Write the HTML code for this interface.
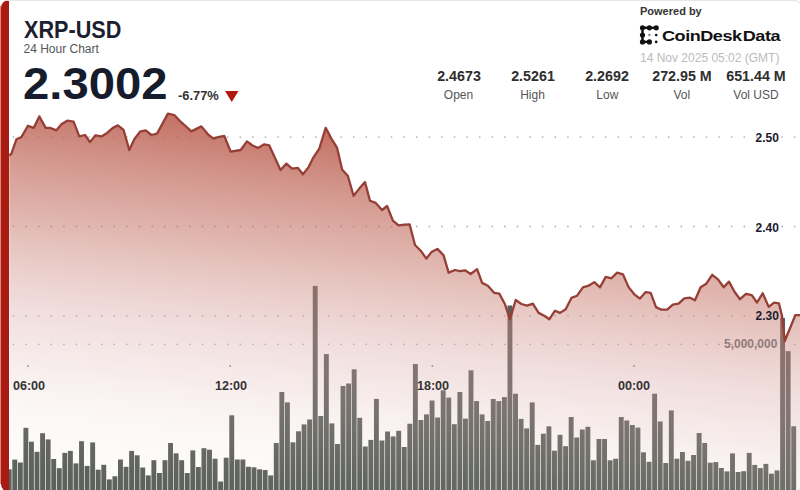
<!DOCTYPE html>
<html><head><meta charset="utf-8">
<style>
html,body{margin:0;padding:0;background:#fff;}
body{width:800px;height:490px;overflow:hidden;position:relative;font-family:"Liberation Sans",sans-serif;}
.card{position:absolute;left:1px;top:0;width:801px;height:492px;border:1px solid #e6e6e6;border-left:8px solid #a81b12;border-radius:8px;box-sizing:border-box;}
.edge{position:absolute;left:0;top:6px;width:1px;height:478px;background:#e48676;}
.t{position:absolute;white-space:nowrap;line-height:1;}
svg{position:absolute;left:0;top:0;}
</style></head><body>
<svg width="800" height="490" viewBox="0 0 800 490">
<defs>
<linearGradient id="ag" x1="150" y1="113" x2="108.3" y2="485.3" gradientUnits="userSpaceOnUse">
<stop offset="0" stop-color="#ba5b4b" stop-opacity="0.86"/>
<stop offset="0.165" stop-color="#c26e61" stop-opacity="0.70"/>
<stop offset="0.297" stop-color="#c6776a" stop-opacity="0.56"/>
<stop offset="0.43" stop-color="#ce8a80" stop-opacity="0.44"/>
<stop offset="0.562" stop-color="#d8a2a2" stop-opacity="0.35"/>
<stop offset="0.695" stop-color="#e0b6b4" stop-opacity="0.26"/>
<stop offset="0.854" stop-color="#ebcfcd" stop-opacity="0.12"/>
<stop offset="1" stop-color="#e0b4ae" stop-opacity="0.05"/>
</linearGradient>
<clipPath id="cp"><rect x="9" y="0" width="791" height="490"/></clipPath>
</defs>
<g clip-path="url(#cp)">
<g fill="#b4b4b4"><circle cx="13.5" cy="137.1" r="0.9"/><circle cx="26.1" cy="137.1" r="0.9"/><circle cx="38.7" cy="137.1" r="0.9"/><circle cx="51.3" cy="137.1" r="0.9"/><circle cx="63.9" cy="137.1" r="0.9"/><circle cx="76.5" cy="137.1" r="0.9"/><circle cx="89.1" cy="137.1" r="0.9"/><circle cx="101.7" cy="137.1" r="0.9"/><circle cx="114.3" cy="137.1" r="0.9"/><circle cx="126.9" cy="137.1" r="0.9"/><circle cx="139.5" cy="137.1" r="0.9"/><circle cx="152.1" cy="137.1" r="0.9"/><circle cx="164.7" cy="137.1" r="0.9"/><circle cx="177.3" cy="137.1" r="0.9"/><circle cx="189.9" cy="137.1" r="0.9"/><circle cx="202.5" cy="137.1" r="0.9"/><circle cx="215.1" cy="137.1" r="0.9"/><circle cx="227.7" cy="137.1" r="0.9"/><circle cx="240.3" cy="137.1" r="0.9"/><circle cx="252.9" cy="137.1" r="0.9"/><circle cx="265.5" cy="137.1" r="0.9"/><circle cx="278.1" cy="137.1" r="0.9"/><circle cx="290.7" cy="137.1" r="0.9"/><circle cx="303.3" cy="137.1" r="0.9"/><circle cx="315.9" cy="137.1" r="0.9"/><circle cx="328.5" cy="137.1" r="0.9"/><circle cx="341.1" cy="137.1" r="0.9"/><circle cx="353.7" cy="137.1" r="0.9"/><circle cx="366.3" cy="137.1" r="0.9"/><circle cx="378.9" cy="137.1" r="0.9"/><circle cx="391.5" cy="137.1" r="0.9"/><circle cx="404.1" cy="137.1" r="0.9"/><circle cx="416.7" cy="137.1" r="0.9"/><circle cx="429.3" cy="137.1" r="0.9"/><circle cx="441.9" cy="137.1" r="0.9"/><circle cx="454.5" cy="137.1" r="0.9"/><circle cx="467.1" cy="137.1" r="0.9"/><circle cx="479.7" cy="137.1" r="0.9"/><circle cx="492.3" cy="137.1" r="0.9"/><circle cx="504.9" cy="137.1" r="0.9"/><circle cx="517.5" cy="137.1" r="0.9"/><circle cx="530.1" cy="137.1" r="0.9"/><circle cx="542.7" cy="137.1" r="0.9"/><circle cx="555.3" cy="137.1" r="0.9"/><circle cx="567.9" cy="137.1" r="0.9"/><circle cx="580.5" cy="137.1" r="0.9"/><circle cx="593.1" cy="137.1" r="0.9"/><circle cx="605.7" cy="137.1" r="0.9"/><circle cx="618.3" cy="137.1" r="0.9"/><circle cx="630.9" cy="137.1" r="0.9"/><circle cx="643.5" cy="137.1" r="0.9"/><circle cx="656.1" cy="137.1" r="0.9"/><circle cx="668.7" cy="137.1" r="0.9"/><circle cx="681.3" cy="137.1" r="0.9"/><circle cx="693.9" cy="137.1" r="0.9"/><circle cx="706.5" cy="137.1" r="0.9"/><circle cx="719.1" cy="137.1" r="0.9"/><circle cx="731.7" cy="137.1" r="0.9"/><circle cx="744.3" cy="137.1" r="0.9"/><circle cx="756.9" cy="137.1" r="0.9"/><circle cx="769.5" cy="137.1" r="0.9"/><circle cx="782.1" cy="137.1" r="0.9"/><circle cx="794.7" cy="137.1" r="0.9"/><circle cx="13.5" cy="226.5" r="0.9"/><circle cx="26.1" cy="226.5" r="0.9"/><circle cx="38.7" cy="226.5" r="0.9"/><circle cx="51.3" cy="226.5" r="0.9"/><circle cx="63.9" cy="226.5" r="0.9"/><circle cx="76.5" cy="226.5" r="0.9"/><circle cx="89.1" cy="226.5" r="0.9"/><circle cx="101.7" cy="226.5" r="0.9"/><circle cx="114.3" cy="226.5" r="0.9"/><circle cx="126.9" cy="226.5" r="0.9"/><circle cx="139.5" cy="226.5" r="0.9"/><circle cx="152.1" cy="226.5" r="0.9"/><circle cx="164.7" cy="226.5" r="0.9"/><circle cx="177.3" cy="226.5" r="0.9"/><circle cx="189.9" cy="226.5" r="0.9"/><circle cx="202.5" cy="226.5" r="0.9"/><circle cx="215.1" cy="226.5" r="0.9"/><circle cx="227.7" cy="226.5" r="0.9"/><circle cx="240.3" cy="226.5" r="0.9"/><circle cx="252.9" cy="226.5" r="0.9"/><circle cx="265.5" cy="226.5" r="0.9"/><circle cx="278.1" cy="226.5" r="0.9"/><circle cx="290.7" cy="226.5" r="0.9"/><circle cx="303.3" cy="226.5" r="0.9"/><circle cx="315.9" cy="226.5" r="0.9"/><circle cx="328.5" cy="226.5" r="0.9"/><circle cx="341.1" cy="226.5" r="0.9"/><circle cx="353.7" cy="226.5" r="0.9"/><circle cx="366.3" cy="226.5" r="0.9"/><circle cx="378.9" cy="226.5" r="0.9"/><circle cx="391.5" cy="226.5" r="0.9"/><circle cx="404.1" cy="226.5" r="0.9"/><circle cx="416.7" cy="226.5" r="0.9"/><circle cx="429.3" cy="226.5" r="0.9"/><circle cx="441.9" cy="226.5" r="0.9"/><circle cx="454.5" cy="226.5" r="0.9"/><circle cx="467.1" cy="226.5" r="0.9"/><circle cx="479.7" cy="226.5" r="0.9"/><circle cx="492.3" cy="226.5" r="0.9"/><circle cx="504.9" cy="226.5" r="0.9"/><circle cx="517.5" cy="226.5" r="0.9"/><circle cx="530.1" cy="226.5" r="0.9"/><circle cx="542.7" cy="226.5" r="0.9"/><circle cx="555.3" cy="226.5" r="0.9"/><circle cx="567.9" cy="226.5" r="0.9"/><circle cx="580.5" cy="226.5" r="0.9"/><circle cx="593.1" cy="226.5" r="0.9"/><circle cx="605.7" cy="226.5" r="0.9"/><circle cx="618.3" cy="226.5" r="0.9"/><circle cx="630.9" cy="226.5" r="0.9"/><circle cx="643.5" cy="226.5" r="0.9"/><circle cx="656.1" cy="226.5" r="0.9"/><circle cx="668.7" cy="226.5" r="0.9"/><circle cx="681.3" cy="226.5" r="0.9"/><circle cx="693.9" cy="226.5" r="0.9"/><circle cx="706.5" cy="226.5" r="0.9"/><circle cx="719.1" cy="226.5" r="0.9"/><circle cx="731.7" cy="226.5" r="0.9"/><circle cx="744.3" cy="226.5" r="0.9"/><circle cx="756.9" cy="226.5" r="0.9"/><circle cx="769.5" cy="226.5" r="0.9"/><circle cx="782.1" cy="226.5" r="0.9"/><circle cx="794.7" cy="226.5" r="0.9"/><circle cx="13.5" cy="315.8" r="0.9"/><circle cx="26.1" cy="315.8" r="0.9"/><circle cx="38.7" cy="315.8" r="0.9"/><circle cx="51.3" cy="315.8" r="0.9"/><circle cx="63.9" cy="315.8" r="0.9"/><circle cx="76.5" cy="315.8" r="0.9"/><circle cx="89.1" cy="315.8" r="0.9"/><circle cx="101.7" cy="315.8" r="0.9"/><circle cx="114.3" cy="315.8" r="0.9"/><circle cx="126.9" cy="315.8" r="0.9"/><circle cx="139.5" cy="315.8" r="0.9"/><circle cx="152.1" cy="315.8" r="0.9"/><circle cx="164.7" cy="315.8" r="0.9"/><circle cx="177.3" cy="315.8" r="0.9"/><circle cx="189.9" cy="315.8" r="0.9"/><circle cx="202.5" cy="315.8" r="0.9"/><circle cx="215.1" cy="315.8" r="0.9"/><circle cx="227.7" cy="315.8" r="0.9"/><circle cx="240.3" cy="315.8" r="0.9"/><circle cx="252.9" cy="315.8" r="0.9"/><circle cx="265.5" cy="315.8" r="0.9"/><circle cx="278.1" cy="315.8" r="0.9"/><circle cx="290.7" cy="315.8" r="0.9"/><circle cx="303.3" cy="315.8" r="0.9"/><circle cx="315.9" cy="315.8" r="0.9"/><circle cx="328.5" cy="315.8" r="0.9"/><circle cx="341.1" cy="315.8" r="0.9"/><circle cx="353.7" cy="315.8" r="0.9"/><circle cx="366.3" cy="315.8" r="0.9"/><circle cx="378.9" cy="315.8" r="0.9"/><circle cx="391.5" cy="315.8" r="0.9"/><circle cx="404.1" cy="315.8" r="0.9"/><circle cx="416.7" cy="315.8" r="0.9"/><circle cx="429.3" cy="315.8" r="0.9"/><circle cx="441.9" cy="315.8" r="0.9"/><circle cx="454.5" cy="315.8" r="0.9"/><circle cx="467.1" cy="315.8" r="0.9"/><circle cx="479.7" cy="315.8" r="0.9"/><circle cx="492.3" cy="315.8" r="0.9"/><circle cx="504.9" cy="315.8" r="0.9"/><circle cx="517.5" cy="315.8" r="0.9"/><circle cx="530.1" cy="315.8" r="0.9"/><circle cx="542.7" cy="315.8" r="0.9"/><circle cx="555.3" cy="315.8" r="0.9"/><circle cx="567.9" cy="315.8" r="0.9"/><circle cx="580.5" cy="315.8" r="0.9"/><circle cx="593.1" cy="315.8" r="0.9"/><circle cx="605.7" cy="315.8" r="0.9"/><circle cx="618.3" cy="315.8" r="0.9"/><circle cx="630.9" cy="315.8" r="0.9"/><circle cx="643.5" cy="315.8" r="0.9"/><circle cx="656.1" cy="315.8" r="0.9"/><circle cx="668.7" cy="315.8" r="0.9"/><circle cx="681.3" cy="315.8" r="0.9"/><circle cx="693.9" cy="315.8" r="0.9"/><circle cx="706.5" cy="315.8" r="0.9"/><circle cx="719.1" cy="315.8" r="0.9"/><circle cx="731.7" cy="315.8" r="0.9"/><circle cx="744.3" cy="315.8" r="0.9"/><circle cx="756.9" cy="315.8" r="0.9"/><circle cx="769.5" cy="315.8" r="0.9"/><circle cx="782.1" cy="315.8" r="0.9"/><circle cx="794.7" cy="315.8" r="0.9"/><circle cx="13.5" cy="344.3" r="0.9"/><circle cx="26.1" cy="344.3" r="0.9"/><circle cx="38.7" cy="344.3" r="0.9"/><circle cx="51.3" cy="344.3" r="0.9"/><circle cx="63.9" cy="344.3" r="0.9"/><circle cx="76.5" cy="344.3" r="0.9"/><circle cx="89.1" cy="344.3" r="0.9"/><circle cx="101.7" cy="344.3" r="0.9"/><circle cx="114.3" cy="344.3" r="0.9"/><circle cx="126.9" cy="344.3" r="0.9"/><circle cx="139.5" cy="344.3" r="0.9"/><circle cx="152.1" cy="344.3" r="0.9"/><circle cx="164.7" cy="344.3" r="0.9"/><circle cx="177.3" cy="344.3" r="0.9"/><circle cx="189.9" cy="344.3" r="0.9"/><circle cx="202.5" cy="344.3" r="0.9"/><circle cx="215.1" cy="344.3" r="0.9"/><circle cx="227.7" cy="344.3" r="0.9"/><circle cx="240.3" cy="344.3" r="0.9"/><circle cx="252.9" cy="344.3" r="0.9"/><circle cx="265.5" cy="344.3" r="0.9"/><circle cx="278.1" cy="344.3" r="0.9"/><circle cx="290.7" cy="344.3" r="0.9"/><circle cx="303.3" cy="344.3" r="0.9"/><circle cx="315.9" cy="344.3" r="0.9"/><circle cx="328.5" cy="344.3" r="0.9"/><circle cx="341.1" cy="344.3" r="0.9"/><circle cx="353.7" cy="344.3" r="0.9"/><circle cx="366.3" cy="344.3" r="0.9"/><circle cx="378.9" cy="344.3" r="0.9"/><circle cx="391.5" cy="344.3" r="0.9"/><circle cx="404.1" cy="344.3" r="0.9"/><circle cx="416.7" cy="344.3" r="0.9"/><circle cx="429.3" cy="344.3" r="0.9"/><circle cx="441.9" cy="344.3" r="0.9"/><circle cx="454.5" cy="344.3" r="0.9"/><circle cx="467.1" cy="344.3" r="0.9"/><circle cx="479.7" cy="344.3" r="0.9"/><circle cx="492.3" cy="344.3" r="0.9"/><circle cx="504.9" cy="344.3" r="0.9"/><circle cx="517.5" cy="344.3" r="0.9"/><circle cx="530.1" cy="344.3" r="0.9"/><circle cx="542.7" cy="344.3" r="0.9"/><circle cx="555.3" cy="344.3" r="0.9"/><circle cx="567.9" cy="344.3" r="0.9"/><circle cx="580.5" cy="344.3" r="0.9"/><circle cx="593.1" cy="344.3" r="0.9"/><circle cx="605.7" cy="344.3" r="0.9"/><circle cx="618.3" cy="344.3" r="0.9"/><circle cx="630.9" cy="344.3" r="0.9"/><circle cx="643.5" cy="344.3" r="0.9"/><circle cx="656.1" cy="344.3" r="0.9"/><circle cx="668.7" cy="344.3" r="0.9"/><circle cx="681.3" cy="344.3" r="0.9"/><circle cx="693.9" cy="344.3" r="0.9"/><circle cx="706.5" cy="344.3" r="0.9"/><circle cx="719.1" cy="344.3" r="0.9"/><circle cx="731.7" cy="344.3" r="0.9"/><circle cx="744.3" cy="344.3" r="0.9"/><circle cx="756.9" cy="344.3" r="0.9"/><circle cx="769.5" cy="344.3" r="0.9"/><circle cx="782.1" cy="344.3" r="0.9"/><circle cx="794.7" cy="344.3" r="0.9"/></g>
<g fill="#888"><circle cx="28" cy="366" r="0.9"/><circle cx="230.2" cy="366" r="0.9"/><circle cx="432.3" cy="366" r="0.9"/><circle cx="634" cy="366" r="0.9"/></g>
<g fill="#565d57">
<rect x="6.74" y="469.3" width="4.9" height="22.7"/>
<rect x="12.30" y="459.6" width="4.9" height="32.4"/>
<rect x="17.87" y="462.5" width="4.9" height="29.5"/>
<rect x="23.43" y="427.8" width="4.9" height="64.2"/>
<rect x="29.00" y="441.7" width="4.9" height="50.3"/>
<rect x="34.56" y="451.8" width="4.9" height="40.2"/>
<rect x="40.12" y="433.2" width="4.9" height="58.8"/>
<rect x="45.69" y="439.4" width="4.9" height="52.6"/>
<rect x="51.25" y="459.0" width="4.9" height="33.0"/>
<rect x="56.82" y="468.2" width="4.9" height="23.8"/>
<rect x="62.38" y="452.9" width="4.9" height="39.1"/>
<rect x="67.94" y="450.9" width="4.9" height="41.1"/>
<rect x="73.51" y="463.4" width="4.9" height="28.6"/>
<rect x="79.07" y="441.2" width="4.9" height="50.8"/>
<rect x="84.64" y="465.9" width="4.9" height="26.1"/>
<rect x="90.20" y="442.4" width="4.9" height="49.6"/>
<rect x="95.76" y="469.7" width="4.9" height="22.3"/>
<rect x="101.33" y="464.8" width="4.9" height="27.2"/>
<rect x="106.89" y="479.4" width="4.9" height="12.6"/>
<rect x="112.46" y="476.3" width="4.9" height="15.7"/>
<rect x="118.02" y="459.5" width="4.9" height="32.5"/>
<rect x="123.58" y="466.8" width="4.9" height="25.2"/>
<rect x="129.15" y="450.9" width="4.9" height="41.1"/>
<rect x="134.71" y="455.3" width="4.9" height="36.7"/>
<rect x="140.28" y="467.5" width="4.9" height="24.5"/>
<rect x="145.84" y="475.4" width="4.9" height="16.6"/>
<rect x="151.40" y="460.2" width="4.9" height="31.8"/>
<rect x="156.97" y="473.0" width="4.9" height="19.0"/>
<rect x="162.53" y="460.2" width="4.9" height="31.8"/>
<rect x="168.10" y="443.0" width="4.9" height="49.0"/>
<rect x="173.66" y="453.3" width="4.9" height="38.7"/>
<rect x="179.22" y="460.2" width="4.9" height="31.8"/>
<rect x="184.79" y="473.0" width="4.9" height="19.0"/>
<rect x="190.35" y="450.4" width="4.9" height="41.6"/>
<rect x="195.92" y="467.0" width="4.9" height="25.0"/>
<rect x="201.48" y="448.2" width="4.9" height="43.8"/>
<rect x="207.04" y="449.7" width="4.9" height="42.3"/>
<rect x="212.61" y="458.7" width="4.9" height="33.3"/>
<rect x="218.17" y="481.5" width="4.9" height="10.5"/>
<rect x="223.74" y="457.7" width="4.9" height="34.3"/>
<rect x="229.30" y="415.3" width="4.9" height="76.7"/>
<rect x="234.86" y="459.5" width="4.9" height="32.5"/>
<rect x="240.43" y="459.5" width="4.9" height="32.5"/>
<rect x="245.99" y="466.8" width="4.9" height="25.2"/>
<rect x="251.56" y="467.3" width="4.9" height="24.7"/>
<rect x="257.12" y="469.3" width="4.9" height="22.7"/>
<rect x="262.68" y="470.0" width="4.9" height="22.0"/>
<rect x="268.25" y="475.4" width="4.9" height="16.6"/>
<rect x="273.81" y="443.0" width="4.9" height="49.0"/>
<rect x="279.38" y="392.0" width="4.9" height="100.0"/>
<rect x="284.94" y="402.4" width="4.9" height="89.6"/>
<rect x="290.50" y="442.3" width="4.9" height="49.7"/>
<rect x="296.07" y="431.3" width="4.9" height="60.7"/>
<rect x="301.63" y="424.4" width="4.9" height="67.6"/>
<rect x="307.20" y="419.5" width="4.9" height="72.5"/>
<rect x="312.76" y="285.9" width="4.9" height="206.1"/>
<rect x="318.32" y="416.0" width="4.9" height="76.0"/>
<rect x="323.89" y="354.1" width="4.9" height="137.9"/>
<rect x="329.45" y="423.4" width="4.9" height="68.6"/>
<rect x="335.02" y="444.0" width="4.9" height="48.0"/>
<rect x="340.58" y="386.0" width="4.9" height="106.0"/>
<rect x="346.14" y="383.5" width="4.9" height="108.5"/>
<rect x="351.71" y="369.3" width="4.9" height="122.7"/>
<rect x="357.27" y="417.8" width="4.9" height="74.2"/>
<rect x="362.84" y="446.5" width="4.9" height="45.5"/>
<rect x="368.40" y="439.9" width="4.9" height="52.1"/>
<rect x="373.96" y="398.9" width="4.9" height="93.1"/>
<rect x="379.53" y="440.5" width="4.9" height="51.5"/>
<rect x="385.09" y="431.5" width="4.9" height="60.5"/>
<rect x="390.66" y="436.4" width="4.9" height="55.6"/>
<rect x="396.22" y="430.8" width="4.9" height="61.2"/>
<rect x="401.78" y="447.0" width="4.9" height="45.0"/>
<rect x="407.35" y="423.7" width="4.9" height="68.3"/>
<rect x="412.91" y="364.0" width="4.9" height="128.0"/>
<rect x="418.48" y="420.0" width="4.9" height="72.0"/>
<rect x="424.04" y="414.4" width="4.9" height="77.6"/>
<rect x="429.60" y="400.5" width="4.9" height="91.5"/>
<rect x="435.17" y="417.5" width="4.9" height="74.5"/>
<rect x="440.73" y="390.3" width="4.9" height="101.7"/>
<rect x="446.30" y="397.6" width="4.9" height="94.4"/>
<rect x="451.86" y="424.2" width="4.9" height="67.8"/>
<rect x="457.42" y="392.0" width="4.9" height="100.0"/>
<rect x="462.99" y="418.6" width="4.9" height="73.4"/>
<rect x="468.55" y="370.3" width="4.9" height="121.7"/>
<rect x="474.12" y="401.1" width="4.9" height="90.9"/>
<rect x="479.68" y="414.4" width="4.9" height="77.6"/>
<rect x="485.24" y="421.0" width="4.9" height="71.0"/>
<rect x="490.81" y="399.0" width="4.9" height="93.0"/>
<rect x="496.37" y="401.1" width="4.9" height="90.9"/>
<rect x="501.94" y="397.1" width="4.9" height="94.9"/>
<rect x="507.50" y="305.5" width="4.9" height="186.5"/>
<rect x="513.06" y="393.7" width="4.9" height="98.3"/>
<rect x="518.63" y="418.9" width="4.9" height="73.1"/>
<rect x="524.19" y="428.4" width="4.9" height="63.6"/>
<rect x="529.76" y="402.4" width="4.9" height="89.6"/>
<rect x="535.32" y="444.9" width="4.9" height="47.1"/>
<rect x="540.88" y="433.7" width="4.9" height="58.3"/>
<rect x="546.45" y="426.3" width="4.9" height="65.7"/>
<rect x="552.01" y="450.7" width="4.9" height="41.3"/>
<rect x="557.58" y="434.8" width="4.9" height="57.2"/>
<rect x="563.14" y="446.2" width="4.9" height="45.8"/>
<rect x="568.70" y="417.0" width="4.9" height="75.0"/>
<rect x="574.27" y="437.5" width="4.9" height="54.5"/>
<rect x="579.83" y="429.5" width="4.9" height="62.5"/>
<rect x="585.40" y="426.8" width="4.9" height="65.2"/>
<rect x="590.96" y="460.3" width="4.9" height="31.7"/>
<rect x="596.52" y="439.0" width="4.9" height="53.0"/>
<rect x="602.09" y="439.0" width="4.9" height="53.0"/>
<rect x="607.65" y="460.3" width="4.9" height="31.7"/>
<rect x="613.22" y="458.7" width="4.9" height="33.3"/>
<rect x="618.78" y="417.0" width="4.9" height="75.0"/>
<rect x="624.34" y="420.5" width="4.9" height="71.5"/>
<rect x="629.91" y="425.0" width="4.9" height="67.0"/>
<rect x="635.47" y="427.6" width="4.9" height="64.4"/>
<rect x="641.04" y="452.3" width="4.9" height="39.7"/>
<rect x="646.60" y="461.8" width="4.9" height="30.2"/>
<rect x="652.16" y="393.7" width="4.9" height="98.3"/>
<rect x="657.73" y="421.5" width="4.9" height="70.5"/>
<rect x="663.29" y="463.0" width="4.9" height="29.0"/>
<rect x="668.86" y="410.4" width="4.9" height="81.6"/>
<rect x="674.42" y="458.7" width="4.9" height="33.3"/>
<rect x="679.98" y="452.0" width="4.9" height="40.0"/>
<rect x="685.55" y="460.8" width="4.9" height="31.2"/>
<rect x="691.11" y="455.0" width="4.9" height="37.0"/>
<rect x="696.68" y="433.0" width="4.9" height="59.0"/>
<rect x="702.24" y="443.0" width="4.9" height="49.0"/>
<rect x="707.80" y="462.7" width="4.9" height="29.3"/>
<rect x="713.37" y="462.1" width="4.9" height="29.9"/>
<rect x="718.93" y="468.0" width="4.9" height="24.0"/>
<rect x="724.50" y="471.4" width="4.9" height="20.6"/>
<rect x="730.06" y="453.4" width="4.9" height="38.6"/>
<rect x="735.62" y="472.0" width="4.9" height="20.0"/>
<rect x="741.19" y="471.2" width="4.9" height="20.8"/>
<rect x="746.75" y="452.9" width="4.9" height="39.1"/>
<rect x="752.32" y="464.9" width="4.9" height="27.1"/>
<rect x="757.88" y="468.1" width="4.9" height="23.9"/>
<rect x="763.44" y="463.9" width="4.9" height="28.1"/>
<rect x="769.01" y="473.7" width="4.9" height="18.3"/>
<rect x="774.57" y="470.4" width="4.9" height="21.6"/>
<rect x="780.14" y="318.0" width="4.9" height="174.0"/>
<rect x="785.70" y="351.2" width="4.9" height="140.8"/>
<rect x="791.26" y="426.3" width="4.9" height="65.7"/>
</g>
<path d="M9.3,155.7 L11.4,153.6 L16.4,139.3 L21.4,137.1 L27.9,125.7 L33.6,127.9 L39.3,116.4 L45.7,127.9 L50.0,127.9 L56.4,130.3 L61.4,124.3 L67.1,120.7 L73.6,121.7 L79.3,136.4 L85.0,135.0 L90.0,142.1 L95.5,135.3 L101.4,136.4 L107.1,132.9 L112.9,127.9 L117.9,125.4 L123.6,130.0 L129.3,150.0 L134.3,139.3 L140.0,131.7 L145.7,130.3 L151.4,135.0 L157.1,133.6 L167.9,113.6 L174.3,115.0 L180.0,121.0 L191.4,131.4 L201.4,126.4 L208.6,135.0 L213.6,138.6 L217.9,137.1 L224.3,136.0 L230.7,151.7 L240.7,150.0 L246.9,141.4 L252.9,145.7 L257.9,147.9 L264.3,144.3 L269.3,145.4 L280.5,170.0 L286.4,163.6 L292.1,168.6 L297.9,167.9 L302.9,174.3 L308.6,167.1 L313.6,157.1 L319.3,148.6 L325.7,127.9 L331.4,138.6 L337.1,147.9 L342.1,169.5 L347.9,176.0 L353.6,195.7 L359.3,188.6 L365.0,182.1 L370.0,200.7 L375.7,202.9 L382.1,210.0 L387.1,206.0 L392.9,220.7 L398.6,225.4 L404.3,224.6 L409.6,224.4 L415.0,245.0 L420.7,250.7 L426.4,258.6 L431.4,252.1 L437.4,248.9 L443.6,255.4 L448.6,272.6 L455.0,270.0 L460.0,271.1 L465.0,270.3 L470.7,274.0 L477.1,269.1 L482.1,282.9 L487.9,285.7 L494.3,292.9 L499.3,293.6 L505.0,304.3 L510.0,319.5 L515.7,300.0 L521.4,304.0 L527.1,305.7 L532.9,303.6 L538.6,312.9 L544.3,315.7 L549.3,319.3 L555.0,310.7 L560.0,312.9 L565.7,309.3 L571.4,297.9 L577.1,295.7 L582.9,287.4 L588.6,285.7 L594.3,282.1 L600.0,287.4 L605.7,276.9 L611.4,278.3 L617.1,272.6 L622.9,274.3 L628.6,287.1 L634.3,294.3 L640.0,298.6 L645.7,292.1 L650.7,292.9 L656.0,307.1 L661.4,309.7 L667.1,309.7 L672.9,304.6 L678.6,303.6 L684.3,298.3 L690.0,297.7 L695.0,300.2 L700.6,287.3 L706.3,283.7 L712.2,274.8 L718.0,279.4 L723.7,287.2 L729.0,281.6 L734.5,291.7 L740.0,299.2 L746.0,293.8 L751.8,295.2 L757.0,302.5 L762.7,293.3 L768.7,306.9 L774.0,302.7 L779.0,303.4 L782.0,316.0 L784.8,341.0 L795.3,315.2 L800.0,315.2 L800,492 L9.3,492 Z" fill="url(#ag)"/>
<path d="M9.3,155.7 L11.4,153.6 L16.4,139.3 L21.4,137.1 L27.9,125.7 L33.6,127.9 L39.3,116.4 L45.7,127.9 L50.0,127.9 L56.4,130.3 L61.4,124.3 L67.1,120.7 L73.6,121.7 L79.3,136.4 L85.0,135.0 L90.0,142.1 L95.5,135.3 L101.4,136.4 L107.1,132.9 L112.9,127.9 L117.9,125.4 L123.6,130.0 L129.3,150.0 L134.3,139.3 L140.0,131.7 L145.7,130.3 L151.4,135.0 L157.1,133.6 L167.9,113.6 L174.3,115.0 L180.0,121.0 L191.4,131.4 L201.4,126.4 L208.6,135.0 L213.6,138.6 L217.9,137.1 L224.3,136.0 L230.7,151.7 L240.7,150.0 L246.9,141.4 L252.9,145.7 L257.9,147.9 L264.3,144.3 L269.3,145.4 L280.5,170.0 L286.4,163.6 L292.1,168.6 L297.9,167.9 L302.9,174.3 L308.6,167.1 L313.6,157.1 L319.3,148.6 L325.7,127.9 L331.4,138.6 L337.1,147.9 L342.1,169.5 L347.9,176.0 L353.6,195.7 L359.3,188.6 L365.0,182.1 L370.0,200.7 L375.7,202.9 L382.1,210.0 L387.1,206.0 L392.9,220.7 L398.6,225.4 L404.3,224.6 L409.6,224.4 L415.0,245.0 L420.7,250.7 L426.4,258.6 L431.4,252.1 L437.4,248.9 L443.6,255.4 L448.6,272.6 L455.0,270.0 L460.0,271.1 L465.0,270.3 L470.7,274.0 L477.1,269.1 L482.1,282.9 L487.9,285.7 L494.3,292.9 L499.3,293.6 L505.0,304.3 L510.0,319.5 L515.7,300.0 L521.4,304.0 L527.1,305.7 L532.9,303.6 L538.6,312.9 L544.3,315.7 L549.3,319.3 L555.0,310.7 L560.0,312.9 L565.7,309.3 L571.4,297.9 L577.1,295.7 L582.9,287.4 L588.6,285.7 L594.3,282.1 L600.0,287.4 L605.7,276.9 L611.4,278.3 L617.1,272.6 L622.9,274.3 L628.6,287.1 L634.3,294.3 L640.0,298.6 L645.7,292.1 L650.7,292.9 L656.0,307.1 L661.4,309.7 L667.1,309.7 L672.9,304.6 L678.6,303.6 L684.3,298.3 L690.0,297.7 L695.0,300.2 L700.6,287.3 L706.3,283.7 L712.2,274.8 L718.0,279.4 L723.7,287.2 L729.0,281.6 L734.5,291.7 L740.0,299.2 L746.0,293.8 L751.8,295.2 L757.0,302.5 L762.7,293.3 L768.7,306.9 L774.0,302.7 L779.0,303.4 L782.0,316.0 L784.8,341.0 L795.3,315.2 L800.0,315.2" fill="none" stroke="#963f36" stroke-width="2.3" stroke-linejoin="round"/>
</g>
</svg>
<div class="card"></div><div class="edge"></div>

<div class="t" style="left:23.6px;top:18.8px;font-size:23.5px;font-weight:bold;color:#1b2030;transform:scaleX(0.92);transform-origin:0 0;">XRP-USD</div>
<div class="t" style="left:23.5px;top:42.7px;font-size:12px;color:#555;">24 Hour Chart</div>
<div class="t" style="left:22.8px;top:62.2px;font-size:44.6px;font-weight:bold;color:#161c2b;transform:scaleX(1.06);transform-origin:0 0;">2.3002</div>
<div class="t" style="left:177.6px;top:89.5px;font-size:12px;font-weight:bold;color:#333;transform:scaleX(1.07);transform-origin:0 0;">-6.77%</div>
<svg style="left:225px;top:91px" width="14" height="12"><path d="M0,0 L13.5,0 L6.75,11 Z" fill="#b01a0e"/></svg>

<div class="t" style="left:640px;top:6px;font-size:11px;font-weight:bold;color:#333;">Powered by</div>
<svg style="left:638px;top:24px" width="24" height="22" viewBox="0 0 24 22">
<g fill="#111"><circle cx="4.5" cy="3.8" r="2.6"/><circle cx="11.4" cy="3.8" r="2.6"/><circle cx="18.2" cy="3.8" r="2.6"/>
<circle cx="4.5" cy="11" r="2.6"/><circle cx="4.5" cy="17.9" r="2.6"/><circle cx="11.4" cy="17.9" r="2.6"/>
<rect x="4.5" y="2.6" width="13.7" height="2.4"/><rect x="3.3" y="3.8" width="2.4" height="14.1"/><rect x="4.5" y="16.7" width="6.9" height="2.4"/>
<circle cx="11.4" cy="11" r="1.2" fill="#888"/><circle cx="18.2" cy="11" r="1.35"/><circle cx="18.2" cy="17.9" r="1.35"/></g>
</svg>
<div class="t" style="left:662px;top:27.5px;font-size:15.5px;font-weight:bold;color:#111;letter-spacing:-0.4px;transform:scaleX(1.165);transform-origin:0 0;">CoinDesk<span style="margin-left:1px"></span>Data</div>
<div class="t" style="left:640px;top:52px;font-size:12px;color:#bbb;">14 Nov 2025 05:02 (GMT)</div>

<div class="t" style="left:458.5px;top:69.4px;font-size:14px;font-weight:bold;color:#2e2e2e;transform:translateX(-50%) scaleX(1.02);">2.4673</div>
<div class="t" style="left:458.5px;top:89px;font-size:12px;color:#555;transform:translateX(-50%);">Open</div>
<div class="t" style="left:532.5px;top:69.4px;font-size:14px;font-weight:bold;color:#2e2e2e;transform:translateX(-50%) scaleX(1.02);">2.5261</div>
<div class="t" style="left:532.5px;top:89px;font-size:12px;color:#555;transform:translateX(-50%);">High</div>
<div class="t" style="left:607.3px;top:69.4px;font-size:14px;font-weight:bold;color:#2e2e2e;transform:translateX(-50%) scaleX(1.02);">2.2692</div>
<div class="t" style="left:607.3px;top:89px;font-size:12px;color:#555;transform:translateX(-50%);">Low</div>
<div class="t" style="left:681.8px;top:69.4px;font-size:14px;font-weight:bold;color:#2e2e2e;transform:translateX(-50%) scaleX(1.02);">272.95 M</div>
<div class="t" style="left:681.8px;top:89px;font-size:12px;color:#555;transform:translateX(-50%);">Vol</div>
<div class="t" style="left:756px;top:69.4px;font-size:14px;font-weight:bold;color:#2e2e2e;transform:translateX(-50%) scaleX(1.02);">651.44 M</div>
<div class="t" style="left:756px;top:89px;font-size:12px;color:#555;transform:translateX(-50%);">Vol USD</div>

<div class="t" style="left:755.5px;top:132px;font-size:12px;font-weight:bold;color:#1b2030;">2.50</div>
<div class="t" style="left:755.5px;top:221.5px;font-size:12px;font-weight:bold;color:#1b2030;">2.40</div>
<div class="t" style="left:755.5px;top:309.6px;font-size:12px;font-weight:bold;color:#1b2030;">2.30</div>
<div class="t" style="left:724px;top:338px;font-size:12px;font-weight:bold;color:#917b7b;">5,000,000</div>

<div class="t" style="left:28.5px;top:379.5px;font-size:12px;font-weight:bold;color:#333;transform:translateX(-50%) scaleX(1.05);">06:00</div>
<div class="t" style="left:230.8px;top:379.5px;font-size:12px;font-weight:bold;color:#333;transform:translateX(-50%) scaleX(1.05);">12:00</div>
<div class="t" style="left:432.8px;top:379.5px;font-size:12px;font-weight:bold;color:#333;transform:translateX(-50%) scaleX(1.05);">18:00</div>
<div class="t" style="left:634.3px;top:379.5px;font-size:12px;font-weight:bold;color:#333;transform:translateX(-50%) scaleX(1.05);">00:00</div>
</body></html>
